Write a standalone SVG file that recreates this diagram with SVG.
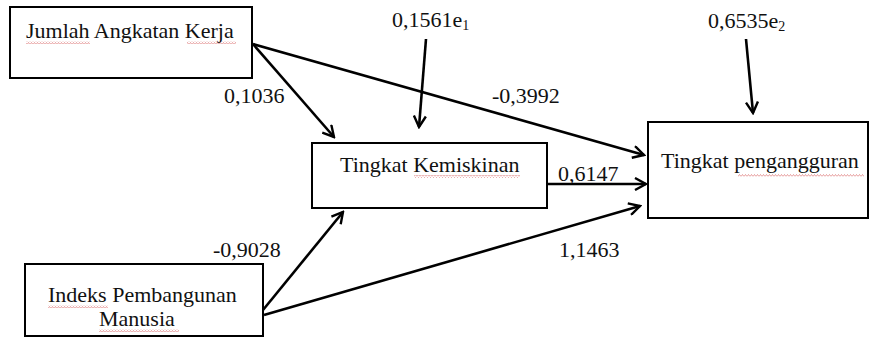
<svg xmlns="http://www.w3.org/2000/svg" width="875" height="337" viewBox="0 0 875 337">
<style>
.box{fill:#fff;stroke:#000;stroke-width:2}
.t{font-family:"Liberation Serif","Times New Roman",serif;font-size:22px;fill:#111}
.sub{font-size:14px}
.c{fill:none;stroke:#000;stroke-width:2.6}
.sq{fill:url(#wave)}
</style>
<defs>
<marker id="ah" viewBox="0 0 14 14" refX="12" refY="7" markerWidth="14" markerHeight="14" markerUnits="userSpaceOnUse" orient="auto">
<path d="M1,1 L12,7 L1,13" fill="none" stroke="#000" stroke-width="2.4"/>
</marker>
<pattern id="wave" width="3" height="3" patternUnits="userSpaceOnUse">
<path d="M0,2.5 L1.5,0.5 L3,2.5" fill="none" stroke="#d77" stroke-width="0.7"/>
</pattern>
</defs>
<rect width="875" height="337" fill="#fff"/>
<g id="connectors">
<line class="c" x1="253" y1="44" x2="334" y2="137" marker-end="url(#ah)"/>
<line class="c" x1="253" y1="44" x2="644" y2="155" marker-end="url(#ah)"/>
<line class="c" x1="426" y1="39" x2="419" y2="127" marker-end="url(#ah)"/>
<line class="c" x1="746" y1="39" x2="753" y2="113" marker-end="url(#ah)"/>
<line class="c" x1="547" y1="184" x2="646" y2="184" marker-end="url(#ah)"/>
<line class="c" x1="263" y1="310" x2="343" y2="212" marker-end="url(#ah)"/>
<line class="c" x1="264" y1="315" x2="640" y2="206" marker-end="url(#ah)"/>
</g>
<g id="labels">
<text class="t" x="224" y="103">0,1036</text>
<text class="t" x="492" y="103">-0,3992</text>
<text class="t" x="392" y="27">0,1561e<tspan class="sub" dy="3">1</tspan></text>
<text class="t" x="708" y="28">0,6535e<tspan class="sub" dy="3">2</tspan></text>
<text class="t" x="558" y="181">0,6147</text>
<text class="t" x="559" y="257">1,1463</text>
<text class="t" x="213" y="257">-0,9028</text>
</g>
<g id="node-jumlah">
<rect class="box" x="10" y="7" width="242" height="71"/>
<text class="t" x="26" y="38">Jumlah Angkatan Kerja</text>
<rect class="sq" x="26" y="41" width="64" height="3"/>
<rect class="sq" x="187" y="41" width="49" height="3"/>
</g>
<g id="node-kemiskinan">
<rect class="box" x="312" y="143" width="235" height="65"/>
<text class="t" x="340" y="172">Tingkat Kemiskinan</text>
<rect class="sq" x="414" y="175" width="106" height="3"/>
</g>
<g id="node-pengangguran">
<rect class="box" x="648" y="122" width="220" height="96"/>
<text class="t" x="661" y="168">Tingkat pengangguran</text>
<rect class="sq" x="738" y="174" width="126" height="3"/>
</g>
<g id="node-ipm">
<rect class="box" x="25" y="264" width="238" height="72"/>
<text class="t" x="48" y="302">Indeks Pembangunan</text>
<rect class="sq" x="48" y="305" width="60" height="3"/>
<text class="t" x="99" y="326">Manusia</text>
<rect class="sq" x="99" y="329" width="80" height="3"/>
</g>
</svg>
